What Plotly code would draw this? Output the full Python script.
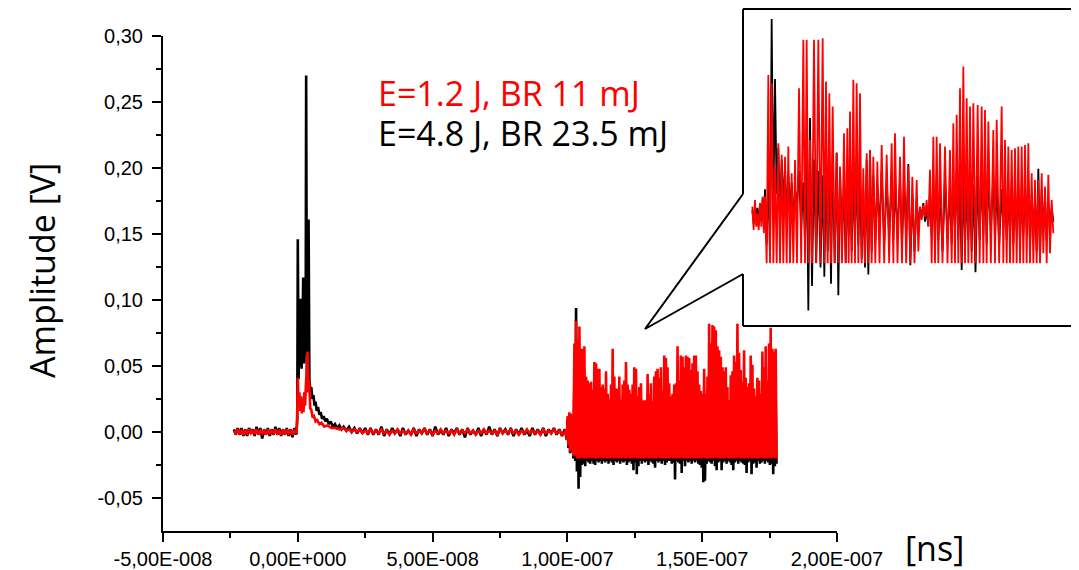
import plotly.graph_objects as go

# page offset of the plot div inside the browser page (default body margin)
OFF = 8
W, H = 1071, 562
NS = 1e-9

# ---------------- main trace data (time in ns, amplitude in V) ----------------
# baseline before the pulse (uniform sampling)
base1_t0, base1_dt = -23.7, 0.7
black_base1 = [0.002, -0.002, 0.003, -0.002, 0.003, -0.003, 0.002, -0.003, 0.003, -0.001,
               0.002, -0.003, 0.004, -0.002, 0.003, -0.005, 0.002, -0.002, 0.003, -0.003,
               0.002, -0.002, 0.004, -0.002, 0.003, -0.003, 0.002, -0.002, 0.003, -0.003,
               0.002, -0.004, 0.003, -0.002]
red_base1 = [0.001, -0.001, 0.002, -0.001, 0.001, -0.002, 0.001, -0.001, 0.002, -0.001,
             0.001, -0.001, 0.002, -0.002, 0.001, -0.001, 0.001, -0.002, 0.002, -0.001,
             0.001, -0.001, 0.002, -0.001, 0.001, -0.002, 0.001, -0.001, 0.002, -0.001,
             0.001, -0.002, 0.001, -0.001]

# pulse around t = 0
black_pulse_t = [-0.5, -0.2, 0.0, 0.3, 0.6, 0.9, 1.1, 1.4, 1.7, 2.0, 2.3, 2.6, 2.9, 3.1, 3.4,
                 3.7, 4.0, 4.3, 4.7, 5.0, 5.4, 5.8, 6.2, 6.6, 7.0, 7.5, 8.0, 8.5, 9.0, 9.6,
                 10.2, 10.8, 11.5, 12.2, 13.0, 13.8, 14.6, 15.4, 16.2]
black_pulse_v = [0.000, 0.010, 0.146, 0.040, 0.085, 0.050, 0.101, 0.048, 0.070, 0.117, 0.052,
                 0.080, 0.060, 0.270, 0.045, 0.090, 0.161, 0.040, 0.030, 0.034, 0.025, 0.028,
                 0.020, 0.023, 0.016, 0.019, 0.013, 0.015, 0.010, 0.012, 0.008, 0.010, 0.006,
                 0.008, 0.004, 0.006, 0.003, 0.005, 0.002]
red_pulse_t = [-0.5, -0.3, 0.0, 0.3, 0.6, 0.9, 1.2, 1.5, 1.8, 2.1, 2.4, 2.7, 3.0, 3.3, 3.6,
               3.9, 4.2, 4.6, 5.0, 5.5, 6.0, 6.6, 7.2, 8.0, 8.8, 9.8, 11.0, 12.5, 14.0, 15.5]
red_pulse_v = [0.000, 0.005, 0.041, 0.020, 0.030, 0.016, 0.027, 0.014, 0.025, 0.015, 0.030,
               0.020, 0.035, 0.045, 0.061, 0.030, 0.040, 0.018, 0.017, 0.011, 0.012, 0.008,
               0.009, 0.006, 0.007, 0.004, 0.005, 0.003, 0.003, 0.002]

# baseline after the pulse (uniform sampling)
base2_t0, base2_dt = 17.0, 1.0
black_base2 = [0.004, 0.001, 0.004, 0.000, 0.003, -0.001, 0.003, -0.001, 0.003, -0.002,
               0.003, -0.002, 0.002, -0.002, 0.004, -0.003, 0.002, -0.002, 0.003, -0.001,
               0.002, -0.003, 0.003, -0.002, 0.001, -0.002, 0.003, -0.003, 0.002, -0.001,
               0.003, -0.002, 0.002, -0.003, 0.004, -0.002, 0.001, -0.002, 0.003, -0.003,
               0.002, -0.001, 0.003, -0.002, 0.002, -0.004, 0.003, -0.002, 0.001, -0.002,
               0.003, -0.003, 0.002, -0.002, 0.004, -0.002, 0.002, -0.003, 0.003, -0.001,
               0.002, -0.002, 0.003, -0.003, 0.002, -0.002, 0.003, -0.002, 0.001, -0.003,
               0.003, -0.002, 0.002, -0.002, 0.003, -0.003, 0.002, -0.001, 0.003, -0.002,
               0.002, -0.003]
red_base2 = [0.003, 0.001, 0.002, 0.000, 0.002, 0.000, 0.002, -0.001, 0.001, -0.001,
             0.002, -0.001, 0.001, -0.001, 0.002, -0.001, 0.001, -0.002, 0.001, -0.001,
             0.002, -0.001, 0.001, -0.001, 0.001, -0.002, 0.002, -0.001, 0.001, -0.001,
             0.002, -0.001, 0.001, -0.002, 0.001, -0.001, 0.002, -0.001, 0.001, -0.001,
             0.001, -0.002, 0.002, -0.001, 0.001, -0.001, 0.002, -0.001, 0.001, -0.002,
             0.001, -0.001, 0.002, -0.001, 0.001, -0.001, 0.001, -0.002, 0.002, -0.001,
             0.001, -0.001, 0.002, -0.001, 0.001, -0.002, 0.001, -0.001, 0.002, -0.001,
             0.001, -0.001, 0.001, -0.002, 0.002, -0.001, 0.001, -0.001, 0.002, -0.001,
             0.001, -0.002]

# onset of the late burst
onset_t = [99.0, 99.4, 99.8, 100.1, 100.4, 100.7, 101.0, 101.3, 101.6, 101.9, 102.2]
black_onset = [0.002, -0.003, -0.006, 0.010, -0.012, 0.013, -0.016, 0.012, -0.015, 0.008, -0.020]
red_onset = [0.000, 0.002, -0.006, 0.012, -0.010, 0.015, -0.015, 0.014, -0.013, 0.010, -0.018]

# late burst: local maxima / minima per sampling interval
burst_t0, burst_dt = 102.6, 0.617
red_burst_hi = [0.067, 0.084, 0.070, 0.080, 0.063, 0.063, 0.065, 0.042, 0.039, 0.037,
                0.038, 0.032, 0.053, 0.052, 0.048, 0.048, 0.034, 0.036, 0.033, 0.046,
                0.029, 0.024, 0.036, 0.063, 0.042, 0.033, 0.033, 0.042, 0.024, 0.036,
                0.039, 0.053, 0.036, 0.032, 0.029, 0.036, 0.049, 0.048, 0.027, 0.034,
                0.037, 0.024, 0.024, 0.024, 0.044, 0.029, 0.037, 0.023, 0.042, 0.046,
                0.048, 0.041, 0.049, 0.031, 0.058, 0.056, 0.049,
                0.037, 0.027, 0.029, 0.036, 0.037, 0.065, 0.039, 0.058, 0.057, 0.049,
                0.058, 0.057, 0.056, 0.047, 0.052, 0.058, 0.058, 0.046, 0.036, 0.031,
                0.029, 0.048, 0.029, 0.042, 0.082, 0.067, 0.081, 0.080, 0.077, 0.065,
                0.062, 0.057, 0.049, 0.046, 0.049, 0.034, 0.024, 0.043, 0.046, 0.058,
                0.053, 0.082, 0.060, 0.047, 0.038, 0.062, 0.041, 0.034, 0.037, 0.058,
                0.051, 0.033, 0.027, 0.041, 0.039, 0.029, 0.061, 0.049, 0.065, 0.039,
                0.067, 0.079, 0.063, 0.061, 0.063]
red_burst_lo = [-0.018, -0.020, -0.020, -0.020, -0.019, -0.020, -0.020, -0.020, -0.020, -0.019,
                -0.020, -0.020, -0.020, -0.020, -0.020, -0.019, -0.020, -0.020, -0.020, -0.020,
                -0.020, -0.020, -0.019, -0.020, -0.020, -0.020, -0.020, -0.020, -0.020, -0.019,
                -0.020, -0.020, -0.020, -0.020, -0.020, -0.020, -0.019, -0.020, -0.020, -0.020,
                -0.020, -0.020, -0.020, -0.019, -0.020, -0.020, -0.020, -0.020, -0.020, -0.020,
                -0.019, -0.020, -0.020, -0.020, -0.020, -0.020, -0.020,
                -0.020, -0.019, -0.020, -0.020, -0.020, -0.020, -0.020, -0.019, -0.020, -0.020,
                -0.020, -0.020, -0.020, -0.019, -0.020, -0.020, -0.020, -0.020, -0.020, -0.020,
                -0.019, -0.020, -0.020, -0.020, -0.020, -0.020, -0.020, -0.019, -0.020, -0.020,
                -0.020, -0.020, -0.020, -0.020, -0.019, -0.020, -0.020, -0.020, -0.020, -0.020,
                -0.020, -0.019, -0.020, -0.020, -0.020, -0.020, -0.020, -0.020, -0.019, -0.020,
                -0.020, -0.020, -0.020, -0.020, -0.020, -0.019, -0.020, -0.020, -0.020, -0.020,
                -0.020, -0.020, -0.019, -0.020, -0.020]
black_burst_hi = [0.040, 0.094, 0.050, 0.035, 0.030, 0.028, 0.025, 0.022, 0.030, 0.026,
                  0.020, 0.024, 0.031, 0.028, 0.022, 0.027, 0.020, 0.025, 0.019, 0.023,
                  0.018, 0.021, 0.026, 0.030, 0.022, 0.019, 0.024, 0.020, 0.018, 0.025,
                  0.022, 0.028, 0.020, 0.023, 0.019, 0.026, 0.032, 0.024, 0.020, 0.022,
                  0.025, 0.018, 0.020, 0.019, 0.024, 0.021, 0.023, 0.018, 0.026, 0.022,
                  0.028, 0.020, 0.025, 0.019, 0.030, 0.027, 0.022,
                  0.022, 0.019, 0.021, 0.024, 0.020, 0.030, 0.023, 0.027, 0.025, 0.021,
                  0.028, 0.024, 0.026, 0.022, 0.025, 0.029, 0.027, 0.021, 0.020, 0.019,
                  0.018, 0.024, 0.019, 0.023, 0.035, 0.030, 0.032, 0.031, 0.028, 0.026,
                  0.025, 0.024, 0.022, 0.021, 0.023, 0.020, 0.018, 0.022, 0.024, 0.027,
                  0.025, 0.033, 0.026, 0.022, 0.020, 0.028, 0.022, 0.019, 0.021, 0.026,
                  0.024, 0.020, 0.018, 0.022, 0.021, 0.019, 0.027, 0.024, 0.029, 0.021,
                  0.030, 0.034, 0.028, 0.026, 0.027]
black_burst_lo = [-0.022, -0.030, -0.043, -0.034, -0.025, -0.024, -0.026, -0.022, -0.023, -0.024,
                  -0.022, -0.024, -0.025, -0.022, -0.023, -0.022, -0.024, -0.022, -0.023, -0.022,
                  -0.024, -0.022, -0.023, -0.025, -0.022, -0.023, -0.022, -0.024, -0.022, -0.023,
                  -0.022, -0.025, -0.023, -0.022, -0.024, -0.029, -0.023, -0.032, -0.026, -0.022,
                  -0.024, -0.022, -0.023, -0.022, -0.025, -0.022, -0.023, -0.024, -0.027, -0.022,
                  -0.023, -0.022, -0.024, -0.022, -0.025, -0.023, -0.022,
                  -0.022, -0.024, -0.023, -0.036, -0.022, -0.023, -0.024, -0.031, -0.022, -0.026,
                  -0.022, -0.023, -0.022, -0.024, -0.022, -0.023, -0.022, -0.024, -0.025, -0.027,
                  -0.038, -0.037, -0.024, -0.022, -0.023, -0.024, -0.022, -0.026, -0.029, -0.023,
                  -0.022, -0.029, -0.023, -0.022, -0.024, -0.022, -0.023, -0.025, -0.029, -0.023,
                  -0.022, -0.024, -0.022, -0.023, -0.024, -0.025, -0.031, -0.023, -0.022, -0.032,
                  -0.024, -0.023, -0.027, -0.022, -0.024, -0.023, -0.022, -0.024, -0.022, -0.023,
                  -0.025, -0.024, -0.032, -0.026, -0.024]

# ---------------- inset data (relative time in ns, amplitude in V) ----------------
inset_t = [0.37, 0.45, 0.52, 0.60, 0.68, 0.75, 0.85, 0.95, 1.05, 1.15, 1.25, 1.35, 1.45, 1.55,
           1.65, 1.77, 1.90, 2.00, 2.10, 2.22, 2.35, 2.48, 2.58, 2.68, 2.78, 2.90, 3.00, 3.12,
           3.22, 3.30, 3.40, 3.50, 3.60, 3.70, 3.80, 3.90, 4.00, 4.12, 4.25, 4.40, 4.55, 4.65,
           4.80, 4.92, 5.05, 5.17, 5.30, 5.40, 5.50, 5.60, 5.70, 5.80, 5.90, 6.00, 6.15, 6.30,
           6.40, 6.50, 6.60, 6.70, 6.80, 6.90, 7.00, 7.13, 7.25, 7.35, 7.45, 7.60, 7.70, 7.85,
           7.95, 8.05, 8.15, 8.25, 8.35, 8.45, 8.55, 8.65, 8.75, 8.85, 8.95, 9.05, 9.15, 9.25,
           9.35]
inset_red_hi = [0.0045, 0.0074, 0.0016, 0.0060, 0.0089, 0.0089, 0.0617, 0.0581, 0.0219, 0.0320,
                0.0270, 0.0262, 0.0306, 0.0190, 0.0248, 0.0559, 0.0770, 0.0770, 0.0335, 0.0770,
                0.0770, 0.0777, 0.0589, 0.0538, 0.0480, 0.0277, 0.0219, 0.0364, 0.0386, 0.0458,
                0.0596, 0.0581, 0.0538, 0.0212, 0.0277, 0.0291, 0.0262, 0.0241, 0.0313, 0.0270,
                0.0320, 0.0364, 0.0262, 0.0349, 0.0219, 0.0175, 0.0161, 0.0045, 0.0052, 0.0074,
                0.0205, 0.0349, 0.0349, 0.0320, 0.0306, 0.0291, 0.0407, 0.0444, 0.0559, 0.0654,
                0.0516, 0.0480, 0.0494, 0.0487, 0.0480, 0.0465, 0.0415, 0.0378, 0.0422, 0.0480,
                0.0335, 0.0306, 0.0291, 0.0299, 0.0306, 0.0306, 0.0313, 0.0320, 0.0190, 0.0161,
                0.0161, 0.0190, 0.0132, 0.0183, 0.0074]
inset_red_lo = [-0.0057, -0.0042, -0.0057, -0.0042, -0.0071, -0.0201, -0.0201, -0.0201, -0.0201, -0.0201,
                -0.0201, -0.0201, -0.0201, -0.0201, -0.0201, -0.0201, -0.0201, -0.0201, -0.0201, -0.0201,
                -0.0201, -0.0201, -0.0201, -0.0201, -0.0201, -0.0201, -0.0201, -0.0201, -0.0201, -0.0201,
                -0.0201, -0.0201, -0.0201, -0.0201, -0.0201, -0.0201, -0.0201, -0.0201, -0.0201, -0.0201,
                -0.0201, -0.0201, -0.0201, -0.0201, -0.0201, -0.0201, -0.0150, -0.0013, 0.0001, -0.0042,
                -0.0201, -0.0201, -0.0201, -0.0201, -0.0201, -0.0201, -0.0201, -0.0201, -0.0201, -0.0201,
                -0.0201, -0.0201, -0.0201, -0.0201, -0.0201, -0.0201, -0.0201, -0.0201, -0.0201, -0.0201,
                -0.0201, -0.0201, -0.0201, -0.0201, -0.0201, -0.0201, -0.0201, -0.0201, -0.0201, -0.0201,
                -0.0201, -0.0158, -0.0201, -0.0158, -0.0071]
inset_black_hi = [0.003, 0.005, 0.004, 0.006, 0.008, 0.012, 0.020, 0.086, 0.060, 0.030,
                  0.025, 0.022, 0.018, 0.015, 0.012, 0.020, 0.015, 0.030, 0.043, 0.025,
                  0.020, 0.018, 0.022, 0.025, 0.028, 0.028, 0.020, 0.015, 0.018, 0.022,
                  0.016, 0.020, 0.018, 0.012, 0.025, 0.029, 0.018, 0.014, 0.020, 0.015,
                  0.018, 0.012, 0.016, 0.014, 0.023, 0.010, 0.008, 0.004, 0.006, 0.003,
                  0.010, 0.015, 0.018, 0.012, 0.016, 0.010, 0.014, 0.020, 0.015, 0.018,
                  0.012, 0.016, 0.014, 0.018, 0.020, 0.023, 0.016, 0.018, 0.015, 0.012,
                  0.014, 0.010, 0.016, 0.012, 0.014, 0.010, 0.012, 0.015, 0.010, 0.008,
                  0.021, 0.012, 0.008, 0.006, 0.004]
inset_black_lo = [-0.003, -0.002, -0.004, -0.001, -0.003, -0.012, -0.017, 0.005, 0.010, 0.000,
                  0.005, 0.000, 0.004, -0.002, 0.006, -0.005, -0.012, -0.0407, -0.030, -0.020,
                  -0.022, -0.026, -0.015, -0.029, -0.020, -0.034, -0.010, -0.020, -0.008, -0.015,
                  -0.010, -0.012, -0.018, -0.022, -0.025, -0.015, -0.010, -0.005, -0.012, -0.008,
                  -0.010, -0.005, -0.012, -0.008, -0.021, -0.015, -0.005, 0.000, -0.002, -0.004,
                  -0.008, -0.012, -0.010, -0.015, -0.008, -0.012, -0.006, -0.010, -0.023, -0.012,
                  -0.010, -0.015, -0.024, -0.010, -0.008, -0.012, -0.006, -0.010, -0.012, -0.005,
                  -0.010, -0.008, -0.012, -0.006, -0.010, -0.008, -0.005, -0.012, -0.008, -0.015,
                  -0.018, -0.006, -0.010, -0.003, -0.002]

# ---------------- axis ticks ----------------
x_tickvals = [-5e-8, 0.0, 5e-8, 1e-7, 1.5e-7, 2e-7]
x_ticktext = ["-5,00E-008", "0,00E+000", "5,00E-008", "1,00E-007", "1,50E-007", "2,00E-007"]
x_minor = [-2.5e-8, 2.5e-8, 7.5e-8, 1.25e-7, 1.75e-7]
y_tickvals = [-0.05, 0.0, 0.05, 0.10, 0.15, 0.20, 0.25, 0.30]
y_ticktext = ["-0,05", "0,00", "0,05", "0,10", "0,15", "0,20", "0,25", "0,30"]
y_minor = [-0.025, 0.025, 0.075, 0.125, 0.175, 0.225, 0.275]

label_red = "E=1.2 J, BR 11 mJ"
label_black = "E=4.8 J, BR 23.5 mJ"


def uniform(t0, dt, vals):
    return [t0 + i * dt for i in range(len(vals))], list(vals)


def alternate(times, his, los, step=None):
    tt, vv = [], []
    n = min(len(times), len(his), len(los))
    for i in range(n):
        t = times[i]
        nxt = times[i + 1] if i + 1 < n else t + (step if step else (times[i] - times[i - 1]))
        tt += [t, 0.5 * (t + nxt)]
        vv += [his[i], los[i]]
    return tt, vv


def build(base1, pulse_t, pulse_v, base2, on_v, hi, lo):
    t, v = [], []
    a, b = uniform(base1_t0, base1_dt, base1); t += a; v += b
    t += pulse_t; v += pulse_v
    a, b = uniform(base2_t0, base2_dt, base2); t += a; v += b
    t += onset_t; v += on_v
    bt = [burst_t0 + i * burst_dt for i in range(min(len(hi), len(lo)))]
    a, b = alternate(bt, hi, lo, burst_dt); t += a; v += b
    return [x * NS for x in t], v


bx, by = build(black_base1, black_pulse_t, black_pulse_v, black_base2, black_onset,
               black_burst_hi, black_burst_lo)
rx, ry = build(red_base1, red_pulse_t, red_pulse_v, red_base2, red_onset,
               red_burst_hi, red_burst_lo)
ibx, iby = alternate(inset_t, inset_black_hi, inset_black_lo)
irx, iry = alternate(inset_t, inset_red_hi, inset_red_lo)

fig = go.Figure()
fig.add_trace(go.Scatter(x=bx, y=by, mode="lines", line=dict(color="#000000", width=2.6),
                         hoverinfo="skip", showlegend=False))
fig.add_trace(go.Scatter(x=rx, y=ry, mode="lines", line=dict(color="#FF0000", width=2.6),
                         hoverinfo="skip", showlegend=False))
fig.add_trace(go.Scatter(x=ibx, y=iby, mode="lines", line=dict(color="#000000", width=1.8),
                         xaxis="x2", yaxis="y2", hoverinfo="skip", showlegend=False))
fig.add_trace(go.Scatter(x=irx, y=iry, mode="lines", line=dict(color="#FF0000", width=1.8),
                         xaxis="x2", yaxis="y2", hoverinfo="skip", showlegend=False))


def px(x):
    return (x - OFF) / W


def py(y):
    return 1 - (y - OFF) / H


tickfont = dict(family="Liberation Sans, Arial, sans-serif", size=20, color="#000000")
textfont = "Open Sans, Noto Sans, sans-serif"

fig.update_layout(
    width=W, height=H,
    margin=dict(l=0, r=0, t=0, b=0),
    paper_bgcolor="white", plot_bgcolor="white",
    showlegend=False,
    xaxis=dict(
        domain=[px(163), px(837)], range=[-5e-8, 2e-7], anchor="y",
        tickmode="array", tickvals=x_tickvals, ticktext=x_ticktext,
        ticks="outside", ticklen=9, tickwidth=2, tickcolor="#000000",
        showline=True, linewidth=2, linecolor="#000000",
        showgrid=False, zeroline=False, tickfont=tickfont, automargin=False,
        minor=dict(tickmode="array", tickvals=x_minor, ticks="outside", ticklen=5,
                   tickwidth=2, tickcolor="#000000", showgrid=False),
    ),
    yaxis=dict(
        domain=[py(531), py(36)], range=[-0.075, 0.30], anchor="x",
        tickmode="array", tickvals=y_tickvals, ticktext=y_ticktext,
        ticks="outside", ticklen=9, tickwidth=2, tickcolor="#000000",
        showline=True, linewidth=2, linecolor="#000000", ticklabelstandoff=5,
        showgrid=False, zeroline=False, tickfont=tickfont, automargin=False,
        minor=dict(tickmode="array", tickvals=y_minor, ticks="outside", ticklen=5,
                   tickwidth=2, tickcolor="#000000", showgrid=False),
    ),
    xaxis2=dict(domain=[px(743), px(1075)], range=[0.09, 10.05], anchor="y2",
                visible=False, showgrid=False, zeroline=False),
    yaxis2=dict(domain=[py(326), py(9)], range=[-0.0474, 0.0904], anchor="x2",
                visible=False, showgrid=False, zeroline=False),
)

# inset frame with callout opening on its left side
line = dict(color="#000000", width=2)
segments = [
    ((743, 9), (1075, 9)),
    ((1075, 9), (1075, 326)),
    ((743, 326), (1075, 326)),
    ((743, 9), (743, 194)),
    ((743, 274), (743, 326)),
]
for (x0, y0), (x1, y1) in segments:
    fig.add_shape(type="line", xref="paper", yref="paper",
                  x0=px(x0), y0=py(y0), x1=px(x1), y1=py(y1), line=line)
fig.add_shape(type="path", xref="paper", yref="paper",
              path=f"M {px(743)},{py(194)} L {px(645)},{py(329)} L {px(743)},{py(274)}",
              line=line)

fig.add_annotation(text=label_red, xref="paper", yref="paper", x=px(376), y=py(93),
                   xanchor="left", yanchor="middle", showarrow=False,
                   font=dict(family=textfont, size=34, color="#FF0000"))
fig.add_annotation(text=label_black, xref="paper", yref="paper", x=px(376), y=py(133),
                   xanchor="left", yanchor="middle", showarrow=False,
                   font=dict(family=textfont, size=34, color="#000000"))
fig.add_annotation(text="Amplitude [V]", xref="paper", yref="paper", x=px(42), y=py(271),
                   xanchor="center", yanchor="middle", textangle=-90, showarrow=False,
                   font=dict(family=textfont, size=34, color="#000000"))
fig.add_annotation(text="[ns]", xref="paper", yref="paper", x=px(934), y=py(548),
                   xanchor="center", yanchor="middle", showarrow=False,
                   font=dict(family=textfont, size=34, color="#000000"))

fig.write_html("out.html")
